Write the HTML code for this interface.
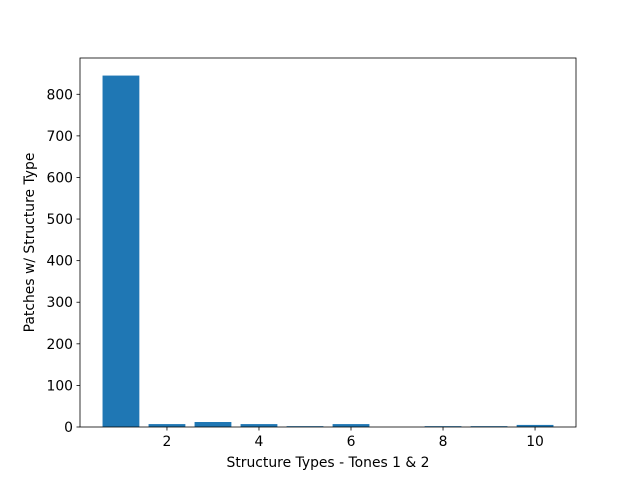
<!DOCTYPE html>
<html><head><meta charset="utf-8"><style>body{margin:0;background:#fff}svg{display:block}text{font-family:"DejaVu Sans","Liberation Sans",sans-serif;font-size:13.9px;fill:#000}</style></head>
<body>
<svg id="chart" width="640" height="480">
<rect x="0" y="0" width="640" height="480" fill="#fff"/>
<g id="bars"></g>
<rect x="80" y="58" width="496" height="369" fill="none" stroke="#000" stroke-width="0.8"/>
<g id="axes"></g>
<text x="328" y="467" text-anchor="middle">Structure Types - Tones 1 &amp; 2</text>
<text transform="translate(34,242.5) rotate(-90)" text-anchor="middle">Patches w/ Structure Type</text>
</svg>
<script>
const categories=[1,2,3,4,5,6,7,8,9,10];
const values=[845,7,12,7,2,7,0,2,2,5];
const xTicks=[2,4,6,8,10];
const yTicks=[0,100,200,300,400,500,600,700,800];
const L=80,R=576,T=58,B=427;
const xmin=0.11,xmax=10.89,ymin=0,ymax=887.25;
const sx=v=>L+(v-xmin)/(xmax-xmin)*(R-L);
const sy=v=>B-(v-ymin)/(ymax-ymin)*(B-T);
const NS='http://www.w3.org/2000/svg';
const bars=document.getElementById('bars'),axes=document.getElementById('axes');
function mk(t,a,p){const e=document.createElementNS(NS,t);for(const k in a)e.setAttribute(k,a[k]);p.appendChild(e);return e;}
categories.forEach((c,i)=>{
 const r=mk('rect',{x:sx(c-0.4),y:sy(values[i]),width:sx(c+0.4)-sx(c-0.4),height:sy(0)-sy(values[i]),fill:'#1f77b4'},bars);
 
 
});
xTicks.forEach(t=>{
 const l=mk('line',{x1:sx(t),x2:sx(t),y1:B,y2:B+3.5,stroke:'#000','stroke-width':0.8},axes);
 
 
 const tx=mk('text',{x:sx(t),y:B+19,'text-anchor':'middle'},axes);tx.textContent=t;
 
 
});
yTicks.forEach(t=>{
 const l=mk('line',{x1:L-3.5,x2:L,y1:sy(t),y2:sy(t),stroke:'#000','stroke-width':0.8},axes);
 
 
 const tx=mk('text',{x:L-7,y:sy(t)+5,'text-anchor':'end'},axes);tx.textContent=t;
 
 
});
</script>
</body></html>
